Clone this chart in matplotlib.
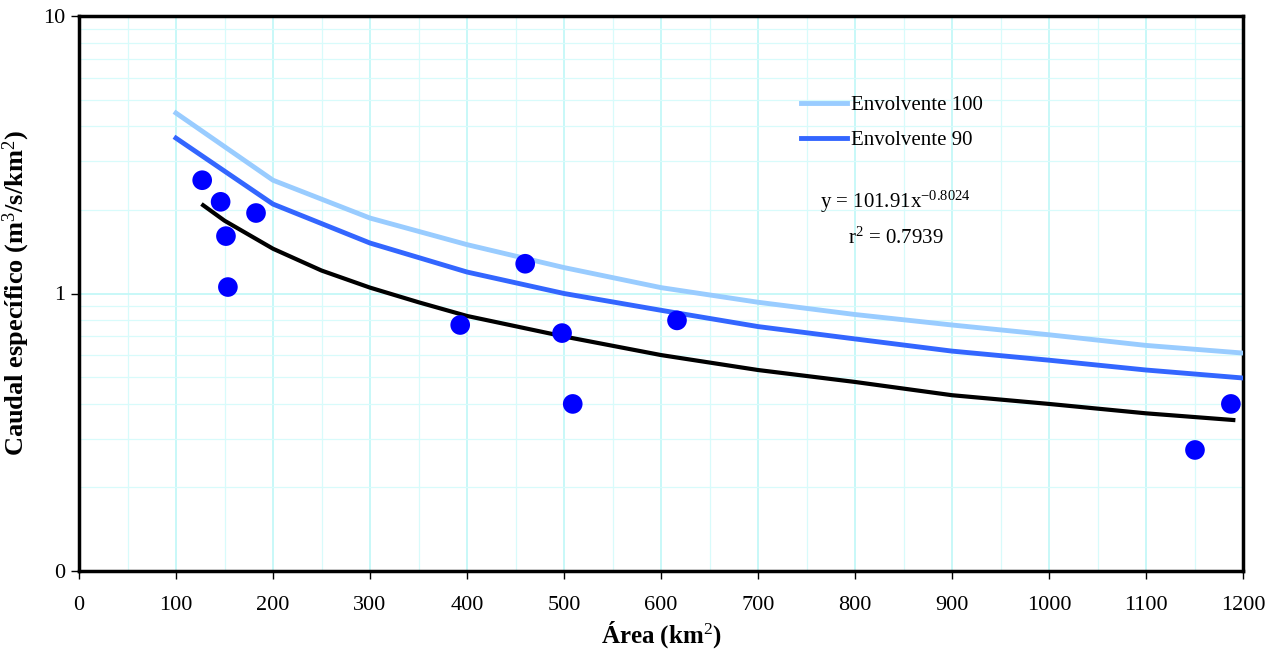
import numpy as np
import matplotlib.pyplot as plt
from matplotlib.ticker import FixedLocator, FixedFormatter, MultipleLocator

# -------------------------------------------------
# datos
# -------------------------------------------------
area_env = [100, 200, 300, 400, 500, 600, 700, 800, 900, 1000, 1100, 1200]
env_100 = [4.47, 2.56, 1.87, 1.50, 1.24, 1.05, 0.93, 0.84, 0.77, 0.71, 0.65, 0.61]
env_90 = [3.63, 2.10, 1.52, 1.195, 1.00, 0.87, 0.76, 0.686, 0.62, 0.575, 0.53, 0.496]

# linea de tendencia
area_tend = [128, 150, 200, 250, 300, 350, 400, 500, 600, 700, 800, 900, 1000, 1100, 1190]
q_tend = [2.08, 1.83, 1.45, 1.21, 1.05, 0.93, 0.83, 0.70, 0.60, 0.53, 0.48, 0.43, 0.40, 0.37, 0.35]

# puntos observados
area_obs = [127, 146, 151.5, 153.5, 182.5, 393, 460, 498, 509, 616.5, 1150.5, 1187.5]
q_obs = [2.56, 2.14, 1.61, 1.055, 1.95, 0.77, 1.28, 0.72, 0.40, 0.80, 0.273, 0.40]

y_ticks = [0.1, 1, 10]
y_tick_labels = ["0", "1", "10"]

# -------------------------------------------------
# grafico
# -------------------------------------------------
plt.rcParams["font.family"] = ["Liberation Serif", "DejaVu Serif"]
plt.rcParams["mathtext.fontset"] = "custom"
plt.rcParams["mathtext.rm"] = "Liberation Serif"
plt.rcParams["mathtext.it"] = "Liberation Serif:italic"
plt.rcParams["mathtext.bf"] = "Liberation Serif:bold"

fig = plt.figure(figsize=(12.73, 6.56), dpi=100)
ax = fig.add_axes([79 / 1273, 1 - 571 / 656, (1243 - 79) / 1273, (571 - 16) / 656])

ax.set_yscale("log")
ax.set_xlim(0, 1200)
ax.set_ylim(0.1, 10)

ax.xaxis.set_major_locator(MultipleLocator(100))
ax.xaxis.set_minor_locator(MultipleLocator(50))
ax.yaxis.set_major_locator(FixedLocator(y_ticks))
ax.yaxis.set_major_formatter(FixedFormatter(y_tick_labels))
ax.yaxis.set_minor_locator(FixedLocator([m * d for d in (0.1, 1) for m in range(2, 10)]))
ax.yaxis.set_minor_formatter(FixedFormatter([]))

ax.grid(True, which="major", color="#c4f8f8", linewidth=1.3)
ax.grid(True, which="minor", color="#d8fbfb", linewidth=0.9)
ax.set_axisbelow(True)

ax.plot(area_env, env_100, color="#99ccff", linewidth=3.5, label="Envolvente 100", zorder=3)
ax.plot(area_env, env_90, color="#3366ff", linewidth=3.5, label="Envolvente 90", zorder=3)
ax.plot(area_tend, q_tend, color="black", linewidth=3, zorder=3)
ax.scatter(area_obs, q_obs, s=200, color="#0000ff", edgecolors="none", zorder=4)

for side in ax.spines.values():
    side.set_linewidth(2.5)
    side.set_color("black")

ax.tick_params(axis="both", which="major", direction="out", length=6, width=1,
               labelsize=16, pad=12)
ax.tick_params(axis="both", which="minor", length=0)
ax.tick_params(axis="y", pad=4)

ax.set_xlabel("Área (km$^2$)", fontsize=18, fontweight="bold", labelpad=3)
ax.set_ylabel("Caudal específico (m$^3$/s/km$^2$)", fontsize=19, fontweight="bold", labelpad=8)

ax.legend(loc="upper left", bbox_to_anchor=(0.613, 0.872), frameon=False, fontsize=15,
          handlelength=2.2, handletextpad=0.2, labelspacing=0.74, borderaxespad=0)

ax.text(0.637, 0.654, "y = 101.91x$^{-0.8024}$", transform=ax.transAxes, fontsize=15)
ax.text(0.661, 0.589, "r$^2$ = 0.7939", transform=ax.transAxes, fontsize=15)

fig.savefig("out.png", dpi=100)
plt.close(fig)
